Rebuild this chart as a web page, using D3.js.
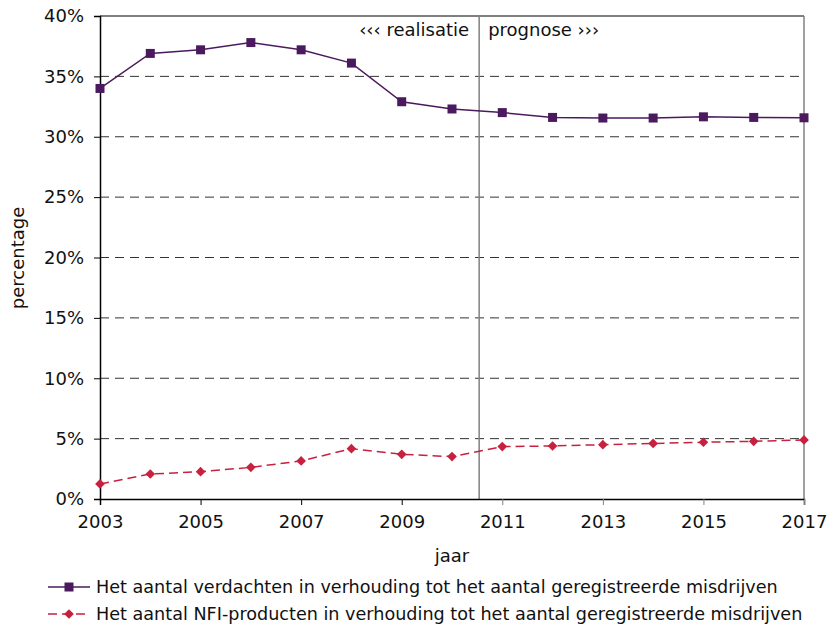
<!DOCTYPE html>
<html>
<head>
<meta charset="utf-8">
<script src="https://cdn.jsdelivr.net/npm/d3@7"></script>
<style>
  body { margin: 0; background: #fff; }
  svg { font-family: Verdana, "DejaVu Sans", sans-serif; }
</style>
</head>
<body>
<svg id="chart" width="839" height="624"></svg>
<script>
// jaren en percentages
var jaren = [2003, 2004, 2005, 2006, 2007, 2008, 2009, 2010, 2011, 2012, 2013, 2014, 2015, 2016, 2017];
var verdachten = [34.0, 36.9, 37.2, 37.8, 37.2, 36.1, 32.9, 32.3, 32.0, 31.6, 31.55, 31.55, 31.65, 31.6, 31.57];
var nfi = [1.25, 2.07, 2.26, 2.62, 3.15, 4.17, 3.7, 3.51, 4.34, 4.39, 4.5, 4.6, 4.7, 4.78, 4.89];
var yTicks = [0, 5, 10, 15, 20, 25, 30, 35, 40];
var xTicks = [2003, 2005, 2007, 2009, 2011, 2013, 2015, 2017];
var grens = 2010.54;
var legendaTeksten = [
  "Het aantal verdachten in verhouding tot het aantal geregistreerde misdrijven",
  "Het aantal NFI-producten in verhouding tot het aantal geregistreerde misdrijven"
];

var svg = d3.select("#chart");
var margin = {top: 16, right: 35, bottom: 125, left: 100};
var width = 839 - margin.left - margin.right;
var height = 624 - margin.top - margin.bottom;

var g = svg.append("g").attr("transform", "translate(" + margin.left + "," + margin.top + ")");

var x = d3.scaleLinear().domain([2003, 2017]).range([0, width]);
var y = d3.scaleLinear().domain([0, 40]).range([height, 0]);

// rasterlijnen
g.selectAll(".grid").data(yTicks.filter(function(d) { return d > 0 && d < 40; }))
  .enter().append("line")
    .attr("class", "grid")
    .attr("x1", 0).attr("x2", width)
    .attr("y1", function(d) { return y(d); })
    .attr("y2", function(d) { return y(d); })
    .attr("stroke", "#333")
    .attr("stroke-dasharray", "9,6");

// kader
g.append("line").attr("x1", 0).attr("x2", width).attr("y1", 0).attr("y2", 0).attr("stroke", "#000");
g.append("line").attr("x1", width).attr("x2", width).attr("y1", 0).attr("y2", height).attr("stroke", "#808080").attr("stroke-width", 1.5);
g.append("line").attr("x1", x(grens)).attr("x2", x(grens)).attr("y1", 0).attr("y2", height).attr("stroke", "#808080").attr("stroke-width", 1.5);

// assen
var yAxis = d3.axisLeft(y).tickValues(yTicks).tickFormat(function(d) { return d + "%"; }).tickSize(6).tickPadding(10);
var yAxisG = g.append("g").call(yAxis);
var xAxis = d3.axisBottom(x).tickValues(xTicks).tickFormat(d3.format("d")).tickSize(6).tickPadding(10);
var xAxisG = g.append("g").attr("transform", "translate(0," + height + ")").call(xAxis);
[yAxisG, xAxisG].forEach(function(a) {
  a.select(".domain").attr("stroke", "#000").attr("stroke-width", 1.5);
  a.selectAll(".tick line").attr("stroke", "#000");
  a.selectAll("text").attr("font-size", 18).attr("fill", "#111").attr("font-family", "Verdana, 'DejaVu Sans', sans-serif");
});
xAxisG.selectAll(".tick line").filter(function(d) { return d > 2010; }).attr("stroke", "#808080");

// teksten
g.append("text").attr("x", x(grens) - 10).attr("y", 20).attr("text-anchor", "end")
  .attr("font-size", 18).attr("fill", "#111").text("\u2039\u2039\u2039 realisatie");
g.append("text").attr("x", x(grens) + 9).attr("y", 20).attr("text-anchor", "start")
  .attr("font-size", 18).attr("fill", "#111").text("prognose \u203a\u203a\u203a");

svg.append("text").attr("x", 452).attr("y", 562).attr("text-anchor", "middle")
  .attr("font-size", 18).attr("fill", "#111").text("jaar");
svg.append("text").attr("transform", "translate(24,258) rotate(-90)").attr("text-anchor", "middle")
  .attr("font-size", 18).attr("fill", "#111").text("percentage");

// lijnen
var kleurV = "#4b1a5e", kleurN = "#c8203f";
var line = d3.line().x(function(d, i) { return x(jaren[i]); }).y(function(d) { return y(d); });

g.append("path").datum(verdachten).attr("d", line).attr("fill", "none").attr("stroke", kleurV).attr("stroke-width", 1.5);
g.append("path").datum(nfi).attr("d", line).attr("fill", "none").attr("stroke", kleurN).attr("stroke-width", 1.5).attr("stroke-dasharray", "9,5");

g.selectAll(".mv").data(verdachten).enter().append("rect")
  .attr("x", function(d, i) { return x(jaren[i]) - 4.5; })
  .attr("y", function(d) { return y(d) - 4.5; })
  .attr("width", 9).attr("height", 9).attr("fill", kleurV);

var diamant = d3.symbol().type(d3.symbolDiamond2).size(60);
g.selectAll(".mn").data(nfi).enter().append("path")
  .attr("d", diamant)
  .attr("transform", function(d, i) { return "translate(" + x(jaren[i]) + "," + y(d) + ")"; })
  .attr("fill", kleurN);

// legenda
var leg = svg.append("g");
[0, 1].forEach(function(i) {
  var ly = 587 + i * 27;
  var kl = i === 0 ? kleurV : kleurN;
  leg.append("line").attr("x1", 48).attr("x2", 90).attr("y1", ly).attr("y2", ly)
    .attr("stroke", kl).attr("stroke-width", 1.5).attr("stroke-dasharray", i === 0 ? null : "9,5");
  if (i === 0) {
    leg.append("rect").attr("x", 64.5).attr("y", ly - 4.5).attr("width", 9).attr("height", 9).attr("fill", kl);
  } else {
    leg.append("path").attr("d", diamant).attr("transform", "translate(69," + ly + ")").attr("fill", kl);
  }
  leg.append("text").attr("x", 96).attr("y", ly + 6).attr("font-size", 17.6).attr("fill", "#111").text(legendaTeksten[i]);
});
</script>
</body>
</html>
